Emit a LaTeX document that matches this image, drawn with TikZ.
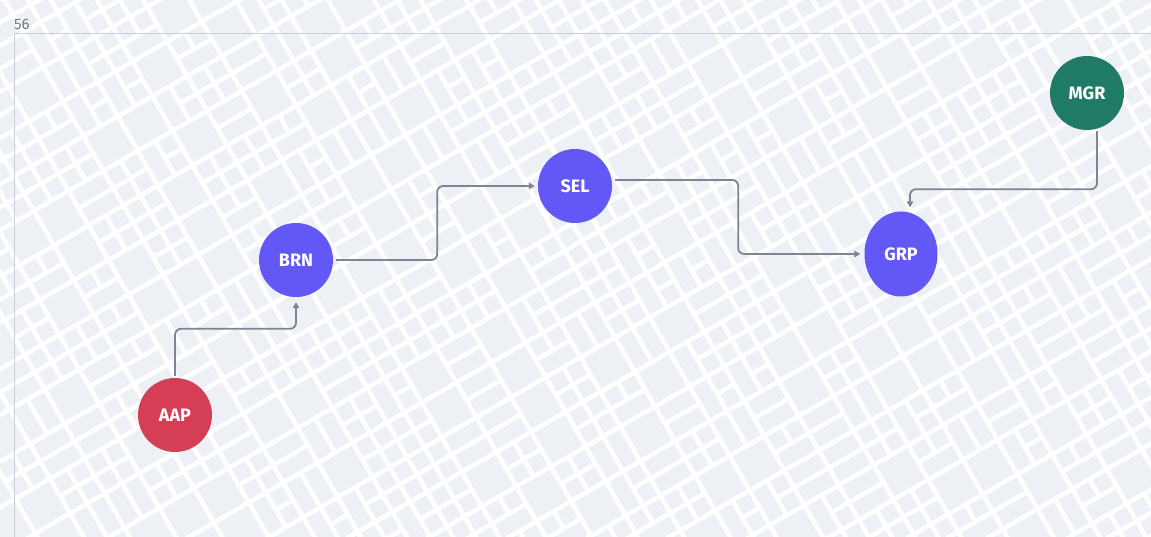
\documentclass[tikz,border=0pt]{standalone}
\usepackage{fontspec}
\setmainfont{Fira Sans}
\usetikzlibrary{arrows.meta,shapes.geometric}
\definecolor{bgc}{HTML}{EDF0F5}
\definecolor{framec}{HTML}{C9CFD9}
\definecolor{labelc}{HTML}{6E7787}
\definecolor{edgec}{HTML}{7A8694}
\definecolor{redc}{HTML}{D43F56}
\definecolor{bluec}{HTML}{6357F5}
\definecolor{greenc}{HTML}{1F7A66}
\tikzset{
  nodebase/.style={inner sep=0pt, text=white, font=\bfseries\fontsize{18}{18}\selectfont},
  circnode/.style={nodebase, circle, minimum size=74pt},
  ovalnode/.style={nodebase, ellipse, minimum width=73pt, minimum height=85pt},
  conn/.style={draw=edgec, line width=1.8pt, rounded corners=6pt, -{Triangle[length=6pt,width=6.5pt]}},
  pat/.style={white, line width=4.5pt}
}
\begin{document}
\begin{tikzpicture}[x=1pt,y=-1pt]
\useasboundingbox (0,0) rectangle (1151,537);
\fill[bgc] (0,0) rectangle (1151,537);
% background pattern
\begin{scope}
\clip (0,0) rectangle (1151,537);
\begin{scope}[shift={(575,268)}, rotate=30]
\foreach \i in {-19,...,19} {
  \draw[pat] (\i*40,-780) -- (\i*40,780);
  \draw[pat] (-780,\i*40) -- (780,\i*40);
}
\pgfmathsetseed{11}
\foreach \i in {-19,...,18} {
  \foreach \j in {-19,...,18} {
    \pgfmathrandominteger{\rr}{1}{9}
    \ifcase\rr\or
    \or
    \or \draw[pat] (\i*40+20,\j*40) -- (\i*40+20,\j*40+40); \draw[pat] (\i*40,\j*40+20) -- (\i*40+40,\j*40+20);
    \or \draw[pat] (\i*40+20,\j*40) -- (\i*40+20,\j*40+40); \draw[pat] (\i*40,\j*40+20) -- (\i*40+40,\j*40+20);
    \or \draw[pat] (\i*40+20,\j*40) -- (\i*40+20,\j*40+40);
    \or \draw[pat] (\i*40,\j*40+20) -- (\i*40+40,\j*40+20);
    \or \draw[pat] (\i*40+20,\j*40) -- (\i*40+20,\j*40+40); \draw[pat] (\i*40+20,\j*40+20) -- (\i*40+40,\j*40+20);
    \or \draw[pat] (\i*40,\j*40+20) -- (\i*40+40,\j*40+20); \draw[pat] (\i*40+20,\j*40) -- (\i*40+20,\j*40+20);
    \or
    \fi
  }
}
\end{scope}
\end{scope}
% frame and label
\draw[framec, line width=1pt] (1151,34) -- (14,34) -- (14,537);
\node[anchor=base west, inner sep=0pt, text=labelc, font=\fontsize{15}{15}\selectfont] (lbl) at (14,30) {56};
% nodes
\node[circnode, fill=redc] (aap) at (175,415) {AAP};
\node[circnode, fill=bluec] (brn) at (296,260) {BRN};
\node[circnode, fill=bluec] (sel) at (575,186) {SEL};
\node[ovalnode, fill=bluec] (grp) at (901,254) {GRP};
\node[circnode, fill=greenc] (mgr) at (1087,93) {MGR};
% connectors
\draw[conn] ([yshift=2pt]aap.north) -- ++(0,-47) -| ([yshift=-5pt]brn.south);
\draw[conn] ([xshift=3pt]brn.east) -- ++(101,0) |- ([xshift=-3pt]sel.west);
\draw[conn] ([shift={(3pt,6pt)}]sel.east) -- ++(123,0) |- ([xshift=-4pt]grp.west);
\draw[conn] ([shift={(10pt,-1pt)}]mgr.south) -- ++(0,58) -| ([shift={(9pt,4pt)}]grp.north);
\end{tikzpicture}
\end{document}
